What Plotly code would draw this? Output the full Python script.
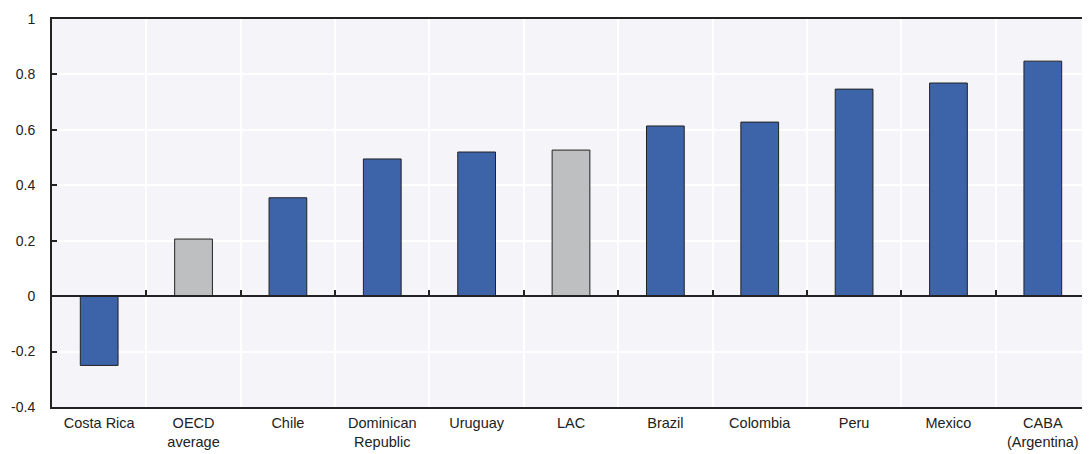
import plotly.graph_objects as go

categories = ["Costa Rica", "OECD<br>average", "Chile", "Dominican<br>Republic", "Uruguay", "LAC",
              "Brazil", "Colombia", "Peru", "Mexico", "CABA<br>(Argentina)"]
values = [-0.25, 0.206, 0.355, 0.495, 0.52, 0.527, 0.614, 0.628, 0.747, 0.769, 0.848]
is_average = [False, True, False, False, False, True, False, False, False, False, False]
y_ticks = [-0.4, -0.2, 0, 0.2, 0.4, 0.6, 0.8, 1]
y_ticktext = ["-0.4", "-0.2", "0", "0.2", "0.4", "0.6", "0.8", "1"]

BLUE = "#3D63A8"
GREY = "#BEBFC1"
colors = [GREY if a else BLUE for a in is_average]
xpos = list(range(len(categories)))
FONT = "Liberation Sans Narrow, Arial Narrow, Liberation Sans, Arial, sans-serif"

fig = go.Figure()
fig.add_trace(go.Bar(
    x=xpos, y=values, width=0.4,
    marker=dict(color=colors, line=dict(color="#222222", width=1)),
    showlegend=False, hoverinfo="skip",
))

ymin, ymax = -0.4, 1.0
fig.update_layout(
    width=1082, height=446,
    margin=dict(l=44, r=0, t=11, b=47, autoexpand=False),
    paper_bgcolor="white", plot_bgcolor="#F4F4F9",
    font=dict(family=FONT, size=14, color="#222222"),
    xaxis=dict(
        range=[-0.5, len(categories) - 0.5], automargin=False,
        tickvals=xpos, ticktext=categories, ticks="",
        showgrid=False, zeroline=False,
        showline=True, linecolor="#222222", linewidth=2, mirror=True,
        tickfont=dict(size=14.5), ticklabelstandoff=2,
    ),
    xaxis2=dict(
        overlaying="x", matches="x", anchor="free", automargin=False,
        position=(0 - ymin) / (ymax - ymin), side="top",
        tickvals=[i + 0.5 for i in xpos[:-1]], showticklabels=False,
        ticks="outside", ticklen=5, tickwidth=2, tickcolor="#222222",
        showgrid=True, gridcolor="white", gridwidth=1.5,
        showline=True, linecolor="#222222", linewidth=2, zeroline=False,
    ),
    yaxis=dict(
        range=[ymin, ymax], tickvals=y_ticks, ticktext=y_ticktext, automargin=False,
        ticks="inside", ticklen=5, tickwidth=2, tickcolor="#222222",
        showgrid=True, gridcolor="white", gridwidth=1.5, zeroline=False,
        showline=True, linecolor="#222222", linewidth=2,
        ticklabelstandoff=12,
    ),
)
fig.add_trace(go.Scatter(x=[0], y=[0], xaxis="x2", mode="markers",
                         marker=dict(opacity=0), showlegend=False, hoverinfo="skip"))

fig.write_html("out.html")
